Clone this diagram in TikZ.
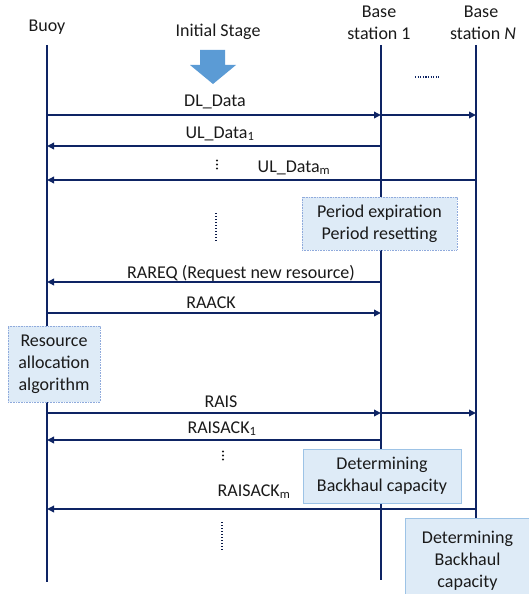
\documentclass[tikz,border=0pt]{standalone}
\usepackage{fontspec}
\setmainfont{Carlito}
\usetikzlibrary{arrows.meta}
\definecolor{navy}{HTML}{0E2464}
\definecolor{boxfill}{HTML}{DEEBF7}
\definecolor{boxline}{HTML}{9DC3E6}
\definecolor{dotline}{HTML}{8FAADC}
\definecolor{bigarrow}{HTML}{5B9BD5}
\definecolor{txt}{HTML}{1A1A1A}
\tikzset{
  lifeline/.style={draw=navy, line width=1.4pt},
  msg/.style={draw=navy, line width=2.2pt, -{Triangle[length=7pt,width=6.5pt]}},
  msglbl/.style={font=\fontsize{18}{20}\selectfont, text=txt, anchor=base, inner sep=0pt},
  hdr/.style={font=\fontsize{18}{21}\selectfont, text=txt, anchor=base, inner sep=0pt},
  notebox/.style={draw=boxline, line width=1pt, fill=boxfill, align=center, text=txt,
    font=\fontsize{18}{22}\selectfont, inner sep=0pt},
  dotbox/.style={notebox, draw=dotline, dash pattern=on 0.8pt off 0.8pt},
  vdots/.style={draw=navy!70!black, line width=1.6pt, dash pattern=on 1.2pt off 1.8pt},
}
\begin{document}
\begin{tikzpicture}[x=1pt,y=-1pt]
\useasboundingbox (0,0) rectangle (528,594);
% headers
\node[hdr] (hbuoy) at (47,32) {Buoy};
\node[hdr] (hinit) at (218,37) {Initial Stage};
\node[hdr] (hbs1a) at (379,18) {Base};
\node[hdr] (hbs1b) at (379,40) {station 1};
\node[hdr] (hbsNa) at (481,18) {Base};
\node[hdr] (hbsNb) at (483,40) {station \textit{N}};
% lifeline ends
\coordinate (b0) at (47,45);
\coordinate (b1) at (47,582);
\coordinate (s0) at (381,45);
\coordinate (s1) at (381,580);
\coordinate (n0) at (476,45);
\coordinate (n1) at (476,518);
% lifelines
\draw[lifeline] (b0) -- (b1);
\draw[lifeline] (s0) -- (s1);
\draw[lifeline] (n0) -- (n1);
% boxes
\node[dotbox, minimum width=155pt, minimum height=53pt] (bx1) at (379.5,223.5)
  {Period expiration\\Period resetting};
\node[dotbox, minimum width=92pt, minimum height=76pt] (bx2) at (54,364)
  {Resource\\allocation\\algorithm};
\node[notebox, minimum width=158pt, minimum height=54pt] (bx3) at (382,476)
  {Determining\\Backhaul capacity};
\node[notebox, minimum width=124pt, minimum height=84pt, anchor=north west] (bx4) at (405,518)
  {Determining\\Backhaul\\capacity};
% big arrow
\fill[bigarrow] (200,50) -- (225,50) -- (225,65) -- (236,65) -- (213,84) -- (190,65) -- (200,65) -- cycle;
\node[inner sep=0pt] (bigarr) at (213,67) {};
% ellipsis
\draw[navy, line width=1.2pt, dash pattern=on 1.2pt off 1.4pt] (415,77) -- (439,77);
% message coordinates
\coordinate (dl0) at (47,115); \coordinate (dl1) at (381,115); \coordinate (dl2) at (476,115);
\coordinate (ul10) at (381,146); \coordinate (ul11) at (47,146);
\coordinate (ulm0) at (476,180); \coordinate (ulm1) at (47,180);
\coordinate (rq0) at (381,282); \coordinate (rq1) at (47,282);
\coordinate (ra0) at (47,313); \coordinate (ra1) at (381,313);
\coordinate (ri0) at (47,413); \coordinate (ri1) at (381,413); \coordinate (ri2) at (476,413);
\coordinate (rk10) at (381,440); \coordinate (rk11) at (47,440);
\coordinate (rkm0) at (476,509); \coordinate (rkm1) at (47,509);
% messages
\draw[msg] (dl0) -- (dl1);
\draw[msg] (dl1) -- (dl2);
\node[msglbl] (ldl) at (215,106) {DL\_Data};
\draw[msg] (ul10) -- (ul11);
\node[msglbl] (lul1) at (220,138) {UL\_Data\textsubscript{1}};
\draw[msg] (ulm0) -- (ulm1);
\node[msglbl] (lulm) at (294,172) {UL\_Data\textsubscript{m}};
\draw[msg] (rq0) -- (rq1);
\node[msglbl] (lrq) at (241,278) {RAREQ (Request new resource)};
\draw[msg] (ra0) -- (ra1);
\node[msglbl] (lra) at (211,308) {RAACK};
\draw[msg] (ri0) -- (ri1);
\draw[msg] (ri1) -- (ri2);
\node[msglbl] (lri) at (221,407) {RAIS};
\draw[msg] (rk10) -- (rk11);
\node[msglbl] (lrk1) at (222,433) {RAISACK\textsubscript{1}};
\draw[msg] (rkm0) -- (rkm1);
\node[msglbl] (lrkm) at (254,496) {RAISACK\textsubscript{m}};
% vertical dots
\foreach \yy in {160.5,164.5,168.5} \fill[txt] (217,\yy) circle (1.2pt);
\foreach \yy in {451.5,455.5,459.5} \fill[txt] (223,\yy) circle (1.2pt);
\draw[vdots] (216,213) -- (216,241);
\draw[vdots] (222,522) -- (222,550);
\end{tikzpicture}
\end{document}
